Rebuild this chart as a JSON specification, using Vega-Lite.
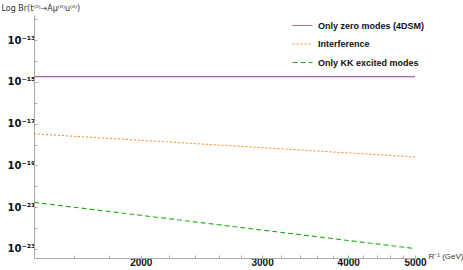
{
  "$schema": "https://vega.github.io/schema/vega-lite/v6.json",
  "width": 381,
  "height": 243,
  "autosize": {"type": "none"},
  "padding": {"left": 34, "top": 15, "right": 48, "bottom": 12},
  "background": "white",
  "config": {
    "view": {"stroke": null},
    "font": "Liberation Sans"
  },
  "data": {
    "values": [
      {"R": 1400, "br": 1.75e-15, "series": "Only zero modes (4DSM)"},
      {"R": 2000, "br": 1.75e-15, "series": "Only zero modes (4DSM)"},
      {"R": 3000, "br": 1.75e-15, "series": "Only zero modes (4DSM)"},
      {"R": 4000, "br": 1.75e-15, "series": "Only zero modes (4DSM)"},
      {"R": 5000, "br": 1.75e-15, "series": "Only zero modes (4DSM)"},
      {"R": 1400, "br": 3.25e-18, "series": "Interference"},
      {"R": 2000, "br": 1.5925e-18, "series": "Interference"},
      {"R": 3000, "br": 7.08e-19, "series": "Interference"},
      {"R": 4000, "br": 3.98e-19, "series": "Interference"},
      {"R": 5000, "br": 2.55e-19, "series": "Interference"},
      {"R": 1400, "br": 1.7e-21, "series": "Only KK excited modes"},
      {"R": 2000, "br": 4.08e-22, "series": "Only KK excited modes"},
      {"R": 3000, "br": 8.06e-23, "series": "Only KK excited modes"},
      {"R": 4000, "br": 2.55e-23, "series": "Only KK excited modes"},
      {"R": 5000, "br": 1.045e-23, "series": "Only KK excited modes"}
    ]
  },
  "mark": {"type": "line", "strokeWidth": 1.1, "clip": true},
  "encoding": {
    "x": {
      "field": "R",
      "type": "quantitative",
      "scale": {"type": "log", "domain": [1400, 5000], "nice": false},
      "axis": {
        "title": "R⁻¹ (GeV)",
        "titleFont": "Liberation Sans",
        "titleFontWeight": "normal",
        "titleFontSize": 8,
        "titleColor": "#333",
        "titleAngle": 0,
        "titleAlign": "left",
        "titleBaseline": "middle",
        "titleX": 394,
        "titleY": -2,
        "values": [1600, 1800, 2000, 2200, 2400, 2600, 2800, 3000, 3200, 3400, 3600, 3800, 4000, 4200, 4400, 4600, 4800, 5000],
        "labelExpr": "datum.value % 1000 == 0 ? format(datum.value, 'd') : ''",
        "labelFontWeight": "bold",
        "labelFontSize": 10,
        "labelColor": "#111",
        "labelPadding": 2,
        "labelFlush": false,
        "labelOverlap": false,
        "tickSize": -3,
        "tickColor": "#aaa",
        "domainColor": "#aaa",
        "grid": false
      }
    },
    "y": {
      "field": "br",
      "type": "quantitative",
      "scale": {"type": "log", "domain": [3.7e-24, 1.58e-12], "nice": false},
      "axis": {
        "title": "Log Br(t⁽⁰⁾→Aμ⁽⁰⁾u⁽⁰⁾)",
        "titleFont": "DejaVu Sans",
        "titleFontWeight": "normal",
        "titleFontSize": 8,
        "titleColor": "#333",
        "titleAngle": 0,
        "titleAlign": "left",
        "titleBaseline": "middle",
        "titleX": -33,
        "titleY": -7,
        "values": [1e-23, 1e-22, 1e-21, 1e-20, 1e-19, 1e-18, 1e-17, 1e-16, 1e-15, 1e-14, 1e-13, 1e-12],
        "labelExpr": "round(log(datum.value)/LN10) == -13 ? '10⁻¹³' : round(log(datum.value)/LN10) == -15 ? '10⁻¹⁵' : round(log(datum.value)/LN10) == -17 ? '10⁻¹⁷' : round(log(datum.value)/LN10) == -19 ? '10⁻¹⁹' : round(log(datum.value)/LN10) == -21 ? '10⁻²¹' : round(log(datum.value)/LN10) == -23 ? '10⁻²³' : ''",
        "labelFont": "DejaVu Sans",
        "labelFontWeight": "bold",
        "labelFontSize": 10,
        "labelColor": "#111",
        "labelPadding": 2,
        "labelFlush": false,
        "labelOverlap": false,
        "tickSize": -3,
        "tickColor": "#aaa",
        "domainColor": "#aaa",
        "grid": false
      }
    },
    "color": {
      "field": "series",
      "type": "nominal",
      "scale": {
        "domain": ["Only zero modes (4DSM)", "Interference", "Only KK excited modes"],
        "range": ["#8e3a96", "#ff8c1a", "#22aa22"]
      },
      "legend": {
        "title": null,
        "orient": "none",
        "legendX": 258,
        "legendY": 0,
        "symbolType": "stroke",
        "symbolSize": 400,
        "symbolStrokeWidth": 1,
        "labelFontSize": 9,
        "labelFontWeight": "bold",
        "labelColor": "#111",
        "labelOffset": 5,
        "rowPadding": 2.5
      }
    },
    "strokeDash": {
      "field": "series",
      "type": "nominal",
      "scale": {
        "domain": ["Only zero modes (4DSM)", "Interference", "Only KK excited modes"],
        "range": [[1, 0], [2, 2], [5, 3]]
      },
      "legend": null
    }
  }
}
